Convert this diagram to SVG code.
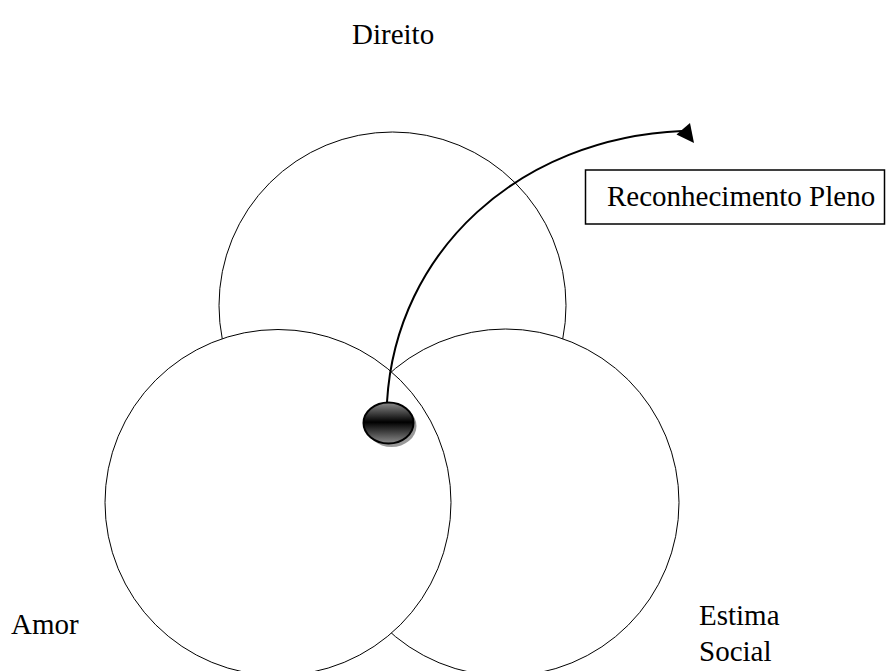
<svg xmlns="http://www.w3.org/2000/svg" width="886" height="671" viewBox="0 0 886 671">
<style>
.c{fill:#fff;stroke:#000;stroke-width:1}
.t{font-size:29px;fill:#000}
.conn{fill:none;stroke:#000;stroke-width:2}
</style>
<defs>
<linearGradient id="g" x1="0" y1="0" x2="0" y2="1">
<stop offset="0" stop-color="#8c8c8c"/>
<stop offset="0.48" stop-color="#000"/>
<stop offset="1" stop-color="#8c8c8c"/>
</linearGradient>
</defs>
<g id="direito"><circle class="c" cx="392.5" cy="305.5" r="173.5"/></g>
<g id="estima-social"><circle class="c" cx="505.5" cy="502.5" r="173.5"/></g>
<g id="amor"><circle class="c" cx="278" cy="502.5" r="173"/></g>
<g id="connectors">
<path class="conn" d="M387,402 C396,250 520,138 682,131"/>
<polygon points="694,143 676.5,134.5 690,123" fill="#000"/>
</g>
<g id="ponto">
<ellipse cx="391.5" cy="426" rx="25" ry="21" fill="#999"/>
<ellipse cx="388.5" cy="423" rx="25" ry="20.5" fill="url(#g)" stroke="#000" stroke-width="2"/>
</g>
<g id="reconhecimento">
<rect x="585.5" y="170" width="299" height="54" fill="#fff" stroke="#000" stroke-width="1.5"/>
<text class="t" font-family="Liberation Serif, Times New Roman, serif" x="607" y="206">Reconhecimento Pleno</text>
</g>
<g id="labels" font-family="Liberation Serif, Times New Roman, serif">
<text class="t" x="352" y="44">Direito</text>
<text class="t" x="11" y="634">Amor</text>
<text class="t" x="699" y="625">Estima</text>
<text class="t" x="699" y="661">Social</text>
</g>
</svg>
